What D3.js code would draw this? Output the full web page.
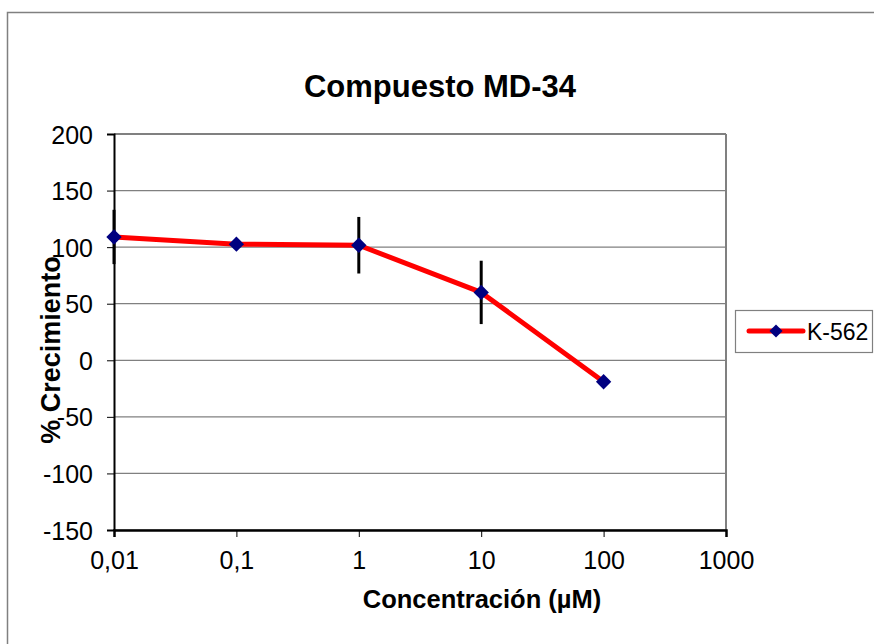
<!DOCTYPE html>
<html>
<head>
<meta charset="utf-8">
<script src="https://cdn.jsdelivr.net/npm/d3@7"></script>
<style>
  body { margin: 0; background: #fff; }
  text { font-family: "Liberation Sans", Arial, sans-serif; fill: #000; }
</style>
</head>
<body>
<svg width="874" height="644"></svg>
<script>
// data
var concentrations = [0.01, 0.1, 1, 10, 100]
var growth = [109, 102.6, 101.7, 60, -19]
var errors = [24, 3, 25, 28, 2]
var xTicks = [0.01, 0.1, 1, 10, 100, 1000]
var xTickLabels = ['0,01', '0,1', '1', '10', '100', '1000']
var yTicks = [-150, -100, -50, 0, 50, 100, 150, 200]
var seriesName = 'K-562'

var points = concentrations.map(function(c, i) {
  return { x: c, y: growth[i], err: errors[i] }
})

const svg = d3.select('svg')

// outer chart border (only top and left visible)
svg.append('rect')
  .attr('x', 7.5).attr('y', 12.5)
  .attr('width', 900).attr('height', 700)
  .attr('fill', 'none')
  .attr('stroke', '#808080')
  .attr('stroke-width', 1.5)

const plotLeft = 114, plotTop = 134, plotRight = 726, plotBottom = 530
const width = plotRight - plotLeft
const height = plotBottom - plotTop

const chart = svg.append('g').attr('transform', `translate(${plotLeft}, ${plotTop})`)

const xScale = d3.scaleLog().domain([0.01, 1000]).range([0, width])
const yScale = d3.scaleLinear().domain([-150, 200]).range([height, 0])

// horizontal grid
chart.append('g')
  .selectAll('line')
  .data(yTicks)
  .enter()
  .append('line')
  .attr('x1', 0).attr('x2', width)
  .attr('y1', d => yScale(d)).attr('y2', d => yScale(d))
  .attr('stroke', '#808080')
  .attr('stroke-width', d => d === 200 ? 2 : 1.2)

// right border of plot area
chart.append('line')
  .attr('x1', width).attr('x2', width)
  .attr('y1', 0).attr('y2', height)
  .attr('stroke', '#808080')
  .attr('stroke-width', 2)

// y axis
const yAxis = chart.append('g')
  .call(d3.axisLeft(yScale).tickValues(yTicks).tickSize(7).tickPadding(14).tickFormat(d3.format('d')))
yAxis.select('.domain').attr('stroke', '#000').attr('stroke-width', 2)
yAxis.selectAll('.tick line').attr('stroke', '#000').attr('stroke-width', 1)
yAxis.selectAll('text')
  .style('font-size', '25px')
  .style('font-family', '"Liberation Sans", Arial, sans-serif')
  .attr('dy', '0.36em')
  .text(d => String(d))

// x axis
const xAxis = chart.append('g')
  .attr('transform', `translate(0, ${height})`)
  .call(d3.axisBottom(xScale).tickValues(xTicks).tickSize(7).tickPadding(14)
    .tickFormat((d, i) => xTickLabels[i]))
xAxis.select('.domain').attr('stroke', '#000').attr('stroke-width', 2.5)
xAxis.selectAll('.tick line').attr('stroke', '#000').attr('stroke-width', 1)
xAxis.selectAll('text')
  .style('font-size', '25px')
  .style('font-family', '"Liberation Sans", Arial, sans-serif')

// series line
const line = d3.line().x(d => xScale(d.x)).y(d => yScale(d.y))
chart.append('path')
  .datum(points)
  .attr('d', line)
  .attr('fill', 'none')
  .attr('stroke', '#ff0000')
  .attr('stroke-width', 5)
  .attr('stroke-linejoin', 'round')

// error bars
chart.selectAll('.err')
  .data(points)
  .enter()
  .append('line')
  .attr('class', 'err')
  .attr('x1', d => xScale(d.x)).attr('x2', d => xScale(d.x))
  .attr('y1', d => yScale(d.y + d.err)).attr('y2', d => yScale(d.y - d.err))
  .attr('stroke', '#000')
  .attr('stroke-width', 3)

// markers
const diamond = d3.symbol().type(d3.symbolDiamond2).size(150)
chart.selectAll('.pt')
  .data(points)
  .enter()
  .append('path')
  .attr('class', 'pt')
  .attr('d', diamond)
  .attr('transform', d => `translate(${xScale(d.x)}, ${yScale(d.y)})`)
  .attr('fill', '#000080')

// title
svg.append('text')
  .attr('x', 440).attr('y', 97)
  .attr('text-anchor', 'middle')
  .style('font-size', '31px')
  .style('font-weight', 'bold')
  .text('Compuesto MD-34')

// axis titles
svg.append('text')
  .attr('x', 482).attr('y', 608)
  .attr('text-anchor', 'middle')
  .style('font-size', '25.5px')
  .style('font-weight', 'bold')
  .text('Concentración (µM)')

svg.append('text')
  .attr('transform', 'translate(60, 350) rotate(-90)')
  .attr('text-anchor', 'middle')
  .style('font-size', '27px')
  .style('font-weight', 'bold')
  .text('% Crecimiento')

// legend
const legend = svg.append('g').attr('transform', 'translate(735, 310)')
legend.append('rect')
  .attr('x', 0.5).attr('y', 0.5)
  .attr('width', 137).attr('height', 42)
  .attr('fill', '#fff')
  .attr('stroke', '#808080')
  .attr('stroke-width', 1.2)
legend.append('line')
  .attr('x1', 14).attr('x2', 68)
  .attr('y1', 21).attr('y2', 21)
  .attr('stroke', '#ff0000')
  .attr('stroke-width', 5)
  .attr('stroke-linecap', 'round')
legend.append('path')
  .attr('d', d3.symbol().type(d3.symbolDiamond2).size(110))
  .attr('transform', 'translate(41, 21)')
  .attr('fill', '#000080')
legend.append('text')
  .attr('x', 72).attr('y', 30)
  .style('font-size', '23px')
  .text(seriesName)
</script>
</body>
</html>
